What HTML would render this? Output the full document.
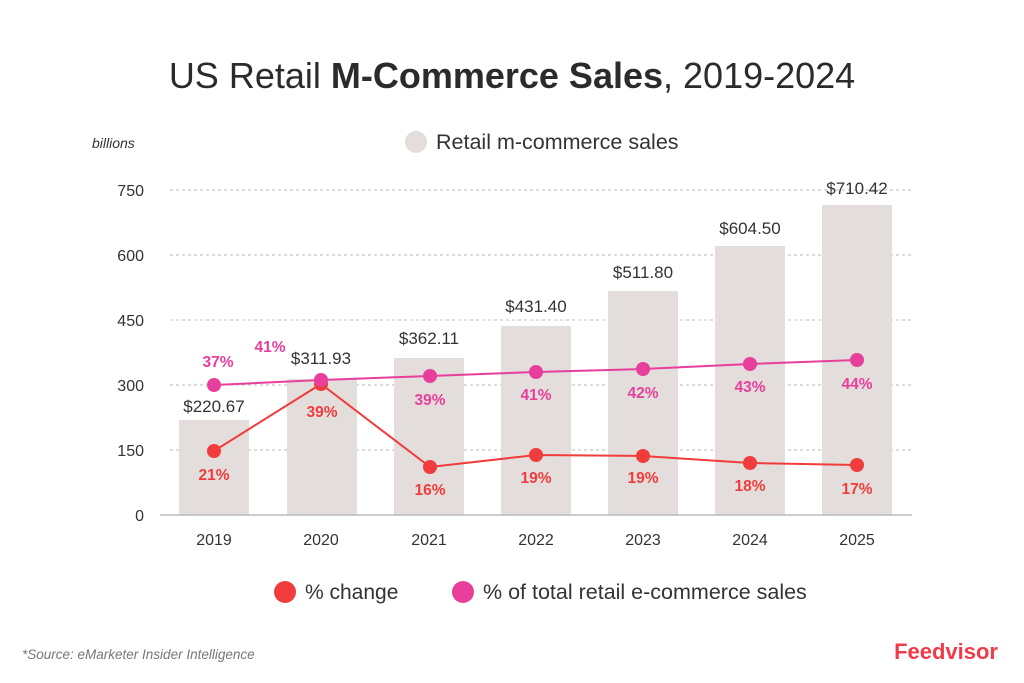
<!DOCTYPE html>
<html><head><meta charset="utf-8"><style>
html,body{margin:0;padding:0;background:#fff;}
svg{display:block;font-family:"Liberation Sans",sans-serif;}
</style></head><body>
<svg width="1024" height="683" viewBox="0 0 1024 683" xmlns="http://www.w3.org/2000/svg">
<rect width="1024" height="683" fill="#fff"/>
<text x="512" y="88" text-anchor="middle" font-size="36" fill="#2b2b2b">US Retail <tspan font-weight="bold">M-Commerce Sales</tspan>, 2019-2024</text>
<text x="92" y="148" font-size="14" font-style="italic" fill="#333">billions</text>
<circle cx="416" cy="142" r="11" fill="#e3dedb"/>
<text x="436" y="149" font-size="21.5" fill="#333">Retail m-commerce sales</text>
<g stroke="#bbb" stroke-dasharray="3,3" stroke-width="1">
<line x1="170" y1="190" x2="912" y2="190"/><line x1="170" y1="255" x2="912" y2="255"/>
<line x1="170" y1="320" x2="912" y2="320"/><line x1="170" y1="385" x2="912" y2="385"/>
<line x1="170" y1="450" x2="912" y2="450"/>
</g>
<g font-size="16" fill="#333" text-anchor="end">
<text x="144" y="196">750</text><text x="144" y="261">600</text><text x="144" y="326">450</text>
<text x="144" y="391">300</text><text x="144" y="456">150</text><text x="144" y="521">0</text>
</g>
<g fill="#e3dedb">
<rect x="179" y="420" width="70" height="95"/>
<rect x="287" y="379" width="70" height="136"/>
<rect x="394" y="358" width="70" height="157"/>
<rect x="501" y="326" width="70" height="189"/>
<rect x="608" y="291" width="70" height="224"/>
<rect x="715" y="246" width="70" height="269"/>
<rect x="822" y="205" width="70" height="310"/>
</g>
<line x1="160" y1="515" x2="912" y2="515" stroke="#bbb" stroke-width="1.5"/>
<g font-size="17" fill="#333" text-anchor="middle">
<text x="214" y="412">$220.67</text><text x="321" y="364">$311.93</text><text x="429" y="344">$362.11</text>
<text x="536" y="312">$431.40</text><text x="643" y="278">$511.80</text><text x="750" y="234">$604.50</text>
<text x="857" y="194">$710.42</text>
</g>
<g font-size="16" fill="#333" text-anchor="middle">
<text x="214" y="545">2019</text><text x="321" y="545">2020</text><text x="429" y="545">2021</text>
<text x="536" y="545">2022</text><text x="643" y="545">2023</text><text x="750" y="545">2024</text><text x="857" y="545">2025</text>
</g>
<polyline points="214,451 321,384 430,467 536,455 643,456 750,463 857,465" fill="none" stroke="#f03c3c" stroke-width="2"/>
<g fill="#f03c3c">
<circle cx="214" cy="451" r="7"/><circle cx="321" cy="384" r="7"/><circle cx="430" cy="467" r="7"/>
<circle cx="536" cy="455" r="7"/><circle cx="643" cy="456" r="7"/><circle cx="750" cy="463" r="7"/><circle cx="857" cy="465" r="7"/>
</g>
<polyline points="214,385 321,380 430,376 536,372 643,369 750,364 857,360" fill="none" stroke="#e83e9c" stroke-width="2"/>
<g fill="#e83e9c">
<circle cx="214" cy="385" r="7"/><circle cx="321" cy="380" r="7"/><circle cx="430" cy="376" r="7"/>
<circle cx="536" cy="372" r="7"/><circle cx="643" cy="369" r="7"/><circle cx="750" cy="364" r="7"/><circle cx="857" cy="360" r="7"/>
</g>
<g font-size="15.5" font-weight="bold" fill="#f03c3c" text-anchor="middle">
<text x="214" y="480">21%</text><text x="322" y="417">39%</text><text x="430" y="495">16%</text>
<text x="536" y="483">19%</text><text x="643" y="483">19%</text><text x="750" y="491">18%</text><text x="857" y="494">17%</text>
</g>
<g font-size="15.5" font-weight="bold" fill="#e83e9c" text-anchor="middle">
<text x="218" y="367">37%</text><text x="270" y="352">41%</text><text x="430" y="405">39%</text>
<text x="536" y="400">41%</text><text x="643" y="398">42%</text><text x="750" y="392">43%</text><text x="857" y="389">44%</text>
</g>
<circle cx="285" cy="592" r="11" fill="#f03c3c"/>
<text x="305" y="599" font-size="21" fill="#333">% change</text>
<circle cx="463" cy="592" r="11" fill="#e83e9c"/>
<text x="483" y="599" font-size="21.5" fill="#333">% of total retail e-commerce sales</text>
<text x="22" y="659" font-size="13.5" font-style="italic" fill="#777">*Source: eMarketer Insider Intelligence</text>
<text x="998" y="659" text-anchor="end" font-size="22" font-weight="bold" fill="#f03c4a">Feedvisor</text>
</svg>
</body></html>
